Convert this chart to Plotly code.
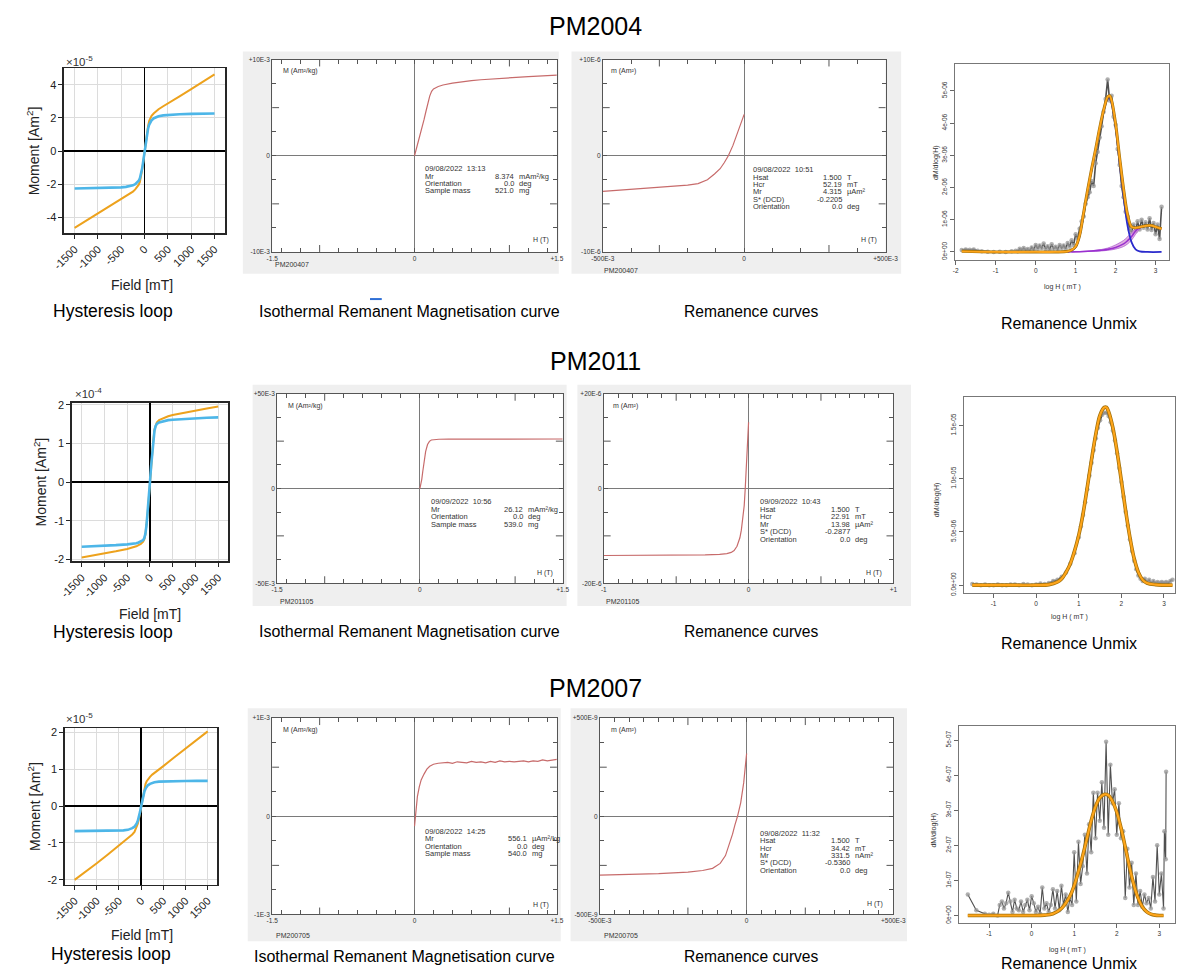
import plotly.graph_objects as go

# ======================= DATA =======================
# Hysteresis loops (field in mT, moment in units of the axis multiplier)
HYST_FIELD = [-1500, -1250, -1000, -750, -500, -400, -300, -250, -200, -150, -125, -100, -75, -50, -25, 0,
              25, 50, 75, 100, 125, 150, 200, 250, 300, 400, 500, 750, 1000, 1250, 1500]
HYST1_RAW = [-4.64, -4.2, -3.76, -3.32, -2.88, -2.72, -2.55, -2.45, -2.31, -2.15, -2.03, -1.86, -1.55, -1.1, -0.6, -0.02,
             0.55, 1.05, 1.5, 1.82, 2.0, 2.12, 2.28, 2.42, 2.52, 2.7, 2.86, 3.3, 3.74, 4.18, 4.62]
HYST1_COR = [-2.26, -2.25, -2.24, -2.22, -2.19, -2.16, -2.11, -2.07, -2.0, -1.88, -1.79, -1.64, -1.4, -1.03, -0.55, -0.02,
             0.5, 0.98, 1.35, 1.6, 1.76, 1.85, 1.98, 2.05, 2.1, 2.15, 2.18, 2.22, 2.24, 2.25, 2.26]
HYST2_RAW = [-1.95, -1.9, -1.85, -1.79, -1.73, -1.7, -1.66, -1.63, -1.6, -1.54, -1.48, -1.36, -1.12, -0.8, -0.42, -0.01,
             0.4, 0.78, 1.1, 1.35, 1.48, 1.54, 1.6, 1.63, 1.66, 1.7, 1.73, 1.79, 1.85, 1.9, 1.95]
HYST2_COR = [-1.67, -1.66, -1.65, -1.63, -1.61, -1.6, -1.58, -1.56, -1.54, -1.5, -1.45, -1.34, -1.11, -0.79, -0.41, -0.01,
             0.4, 0.78, 1.1, 1.33, 1.45, 1.5, 1.54, 1.56, 1.58, 1.6, 1.61, 1.63, 1.65, 1.66, 1.67]
HYST3_RAW = [-2.0, -1.78, -1.55, -1.31, -1.07, -0.98, -0.89, -0.83, -0.77, -0.7, -0.64, -0.57, -0.48, -0.35, -0.19, -0.01,
             0.18, 0.35, 0.5, 0.6, 0.67, 0.72, 0.79, 0.85, 0.9, 0.99, 1.08, 1.32, 1.56, 1.79, 2.02]
HYST3_COR = [-0.68, -0.68, -0.675, -0.67, -0.665, -0.66, -0.645, -0.63, -0.6, -0.56, -0.52, -0.47, -0.4, -0.3, -0.16, -0.01,
             0.16, 0.3, 0.4, 0.47, 0.52, 0.56, 0.6, 0.63, 0.645, 0.66, 0.665, 0.67, 0.675, 0.68, 0.68]
HYST_TICKS = [-1500, -1000, -500, 0, 500, 1000, 1500]
HYST_TICKTEXT = ["-1500", "-1000", "-500", "0", "500", "1000", "1500"]

# IRM acquisition curves (H in T, M in the axis E-3 units)
IRM1_H = [0, 0.02, 0.04, 0.06, 0.08, 0.1, 0.12, 0.14, 0.16, 0.18, 0.2, 0.25, 0.3, 0.4, 0.5, 0.6, 0.7, 0.8, 0.9, 1.0,
          1.1, 1.2, 1.3, 1.4, 1.5]
IRM1_M = [0, 0.7, 1.45, 2.2, 2.95, 3.75, 4.6, 5.45, 6.2, 6.7, 6.95, 7.2, 7.35, 7.55, 7.7, 7.8, 7.9, 7.98, 8.05, 8.12,
          8.18, 8.23, 8.28, 8.32, 8.37]
IRM2_H = [0, 0.01, 0.02, 0.03, 0.04, 0.05, 0.06, 0.08, 0.1, 0.12, 0.15, 0.2, 0.3, 0.5, 0.8, 1.0, 1.2, 1.5]
IRM2_M = [0, 2.0, 5.0, 9.0, 13.0, 16.5, 19.5, 23.2, 24.9, 25.6, 25.9, 26.0, 26.05, 26.08, 26.1, 26.11, 26.12, 26.12]
IRM3_H = [0, 0.005, 0.01, 0.02, 0.03, 0.05, 0.07, 0.1, 0.13, 0.16, 0.2, 0.25, 0.3, 0.35, 0.4, 0.45, 0.5, 0.55, 0.6,
          0.65, 0.7, 0.75, 0.8, 0.85, 0.9, 0.95, 1.0, 1.05, 1.1, 1.15, 1.2, 1.25, 1.3, 1.35, 1.4, 1.45, 1.5]
IRM3_M = [-0.1, -0.05, 0.02, 0.12, 0.2, 0.3, 0.37, 0.43, 0.48, 0.51, 0.53, 0.54, 0.545, 0.55, 0.54, 0.555, 0.55, 0.545,
          0.56, 0.55, 0.555, 0.545, 0.56, 0.55, 0.565, 0.555, 0.56, 0.555, 0.56, 0.565, 0.555, 0.565, 0.56, 0.575,
          0.565, 0.575, 0.58]

# Back-field (DCD) remanence curves
REM1_H = [-0.5, -0.45, -0.4, -0.35, -0.3, -0.25, -0.2, -0.163, -0.13, -0.105, -0.085, -0.07, -0.056, -0.04, -0.023, -0.01, 0]
REM1_M = [-3.7, -3.6, -3.5, -3.4, -3.28, -3.17, -3.05, -2.9, -2.5, -1.9, -1.35, -0.7, 0.0, 1.05, 2.4, 3.4, 4.3]
REM2_H = [-1.0, -0.8, -0.6, -0.4, -0.3, -0.2, -0.15, -0.12, -0.1, -0.08, -0.06, -0.05, -0.04, -0.03, -0.023, -0.015, -0.008, 0]
REM2_M = [-14.15, -14.15, -14.1, -14.05, -14.0, -13.9, -13.75, -13.5, -13.1, -12.2, -10.4, -8.8, -6.6, -3.6, 0.0, 4.0, 8.2, 13.98]
REM3_H = [-0.5, -0.4, -0.3, -0.2, -0.15, -0.116, -0.09, -0.072, -0.06, -0.048, -0.04, -0.031, -0.02, -0.01, 0]
REM3_M = [-300, -297, -292, -284, -276, -265, -240, -200, -150, -91, -45, 0, 70, 170, 320]

# Unmixing: measured gradient data (log H) and fitted components
U1_X = [-1.85, -1.75, -1.65, -1.55, -1.45, -1.35, -1.2, -1.05, -0.9, -0.75, -0.6,
        -0.5, -0.45, -0.4, -0.35, -0.3, -0.25, -0.2, -0.15, -0.1, -0.05,
        0.0, 0.05, 0.1, 0.15, 0.2, 0.25, 0.3, 0.35, 0.4, 0.45,
        0.5, 0.55, 0.6, 0.65, 0.7, 0.75, 0.8, 0.85, 0.9, 0.95,
        1.0, 1.05, 1.1, 1.15, 1.2, 1.25, 1.3, 1.35, 1.4, 1.45,
        1.5, 1.55, 1.6, 1.65, 1.7, 1.75, 1.8, 1.85, 1.9, 1.95,
        2.0, 2.05, 2.1, 2.15, 2.2, 2.25, 2.3, 2.35, 2.4, 2.45,
        2.5, 2.55, 2.6, 2.65, 2.7, 2.75, 2.8, 2.85, 2.9, 2.95,
        3.0, 3.05, 3.1, 3.15]
U1_Y = [0.06, 0.08, 0.07, 0.08, 0.04, 0.02, 0.01, 0.0, 0.01, 0.0, 0.02,
        0.04, 0.02, 0.1, 0.06, 0.12, 0.05, 0.09, 0.04, 0.14, 0.07,
        0.22, 0.1, 0.2, 0.12, 0.26, 0.09, 0.18, 0.07, 0.24, 0.1,
        0.16, 0.08, 0.22, 0.12, 0.2, 0.1, 0.28, 0.16, 0.36, 0.22,
        0.55, 0.42, 0.72, 0.95, 1.1, 1.5, 1.7, 1.85, 2.2, 2.05,
        2.75, 3.1, 3.55, 3.9, 4.35, 4.75, 5.35, 4.7, 4.85, 4.2,
        3.95, 3.2, 2.7, 2.05, 1.7, 1.25, 1.1, 0.7, 0.62, 0.85,
        0.65, 0.95, 0.7, 1.0, 0.75, 0.92, 0.7, 1.05, 0.68, 0.9,
        0.55, 0.85, 0.4, 1.4]
F1_X = [-1.85, -1.0, 0.0, 0.5, 0.8, 0.9, 1.0, 1.1, 1.2, 1.3, 1.4, 1.5, 1.6, 1.7, 1.8, 1.85, 1.9, 2.0, 2.1, 2.2,
        2.3, 2.4, 2.5, 2.6, 2.7, 2.8, 2.9, 3.0, 3.15]
F1_Y = [0.02, 0.0, 0.0, 0.0, 0.02, 0.06, 0.17, 0.52, 1.22, 1.93, 2.58, 3.19, 3.84, 4.4, 4.81, 4.85, 4.7, 3.97, 2.93, 1.95,
        1.15, 0.78, 0.75, 0.77, 0.8, 0.82, 0.82, 0.78, 0.72]
C1_X = [0.7, 0.9, 1.0, 1.1, 1.2, 1.3, 1.4, 1.5, 1.6, 1.7, 1.8, 1.85, 1.9, 2.0, 2.1, 2.2, 2.3, 2.4, 2.5, 2.6, 2.8, 3.15]
C1_Y = [0.0, 0.05, 0.15, 0.5, 1.2, 1.9, 2.55, 3.15, 3.8, 4.35, 4.75, 4.78, 4.6, 3.85, 2.75, 1.7, 0.8, 0.3, 0.08, 0.02, 0.0, 0.0]
C2_X = [0.8, 1.0, 1.2, 1.4, 1.6, 1.8, 2.0, 2.2, 2.3, 2.4, 2.5, 2.6, 2.7, 2.8, 2.9, 3.0, 3.15]
C2_Y = [0.0, 0.005, 0.015, 0.03, 0.05, 0.08, 0.14, 0.25, 0.35, 0.48, 0.65, 0.75, 0.8, 0.82, 0.82, 0.78, 0.72]
C2B_X = [0.9, 1.2, 1.5, 1.8, 2.0, 2.2, 2.3, 2.4, 2.5, 2.6, 2.65]
C2B_UP = [0.0, 0.02, 0.05, 0.12, 0.22, 0.36, 0.47, 0.6, 0.72, 0.78, 0.79]
C2B_LO = [0.0, 0.01, 0.02, 0.05, 0.09, 0.17, 0.25, 0.37, 0.55, 0.7, 0.76]

U2_X = [-1.5, -1.4, -1.3, -1.2, -1.1, -1.0, -0.9, -0.8, -0.7, -0.6, -0.5, -0.4, -0.3, -0.2, -0.1,
        0.0, 0.1, 0.2, 0.3, 0.4, 0.5, 0.6, 0.7, 0.8, 0.9,
        1.0, 1.05, 1.1, 1.15, 1.2, 1.25, 1.3, 1.35, 1.4, 1.45,
        1.5, 1.55, 1.6, 1.65, 1.7, 1.75, 1.8, 1.85, 1.9, 1.95,
        2.0, 2.05, 2.1, 2.15, 2.2, 2.25, 2.3, 2.35, 2.4, 2.45,
        2.5, 2.55, 2.6, 2.65, 2.7, 2.75, 2.8, 2.85, 2.9, 2.95,
        3.0, 3.05, 3.1, 3.15, 3.2]
U2_Y = [0.01, 0.005, 0.0, 0.005, 0.0, 0.0, 0.005, 0.0, 0.0, 0.005, 0.005, 0.0, 0.01, 0.005, 0.0,
        0.005, 0.015, 0.01, 0.02, 0.04, 0.05, 0.08, 0.12, 0.2, 0.3,
        0.45, 0.55, 0.66, 0.78, 0.9, 1.03, 1.15, 1.27, 1.38, 1.48,
        1.55, 1.6, 1.62, 1.62, 1.59, 1.53, 1.45, 1.36, 1.24, 1.1,
        0.97, 0.83, 0.69, 0.56, 0.43, 0.32, 0.23, 0.15, 0.09, 0.06,
        0.04, 0.06, 0.03, 0.05, 0.02, 0.04, 0.02, 0.03, 0.02, 0.03,
        0.02, 0.03, 0.02, 0.04, 0.05]
F2_X = [-1.5, -0.5, 0.0, 0.3, 0.5, 0.6, 0.7, 0.8, 0.9, 1.0, 1.1, 1.2, 1.3, 1.4, 1.5, 1.6, 1.65, 1.7, 1.8, 1.9,
        2.0, 2.1, 2.2, 2.3, 2.4, 2.5, 2.6, 2.8, 3.2]
F2_Y = [0, 0, 0, 0.005, 0.03, 0.06, 0.12, 0.2, 0.32, 0.47, 0.67, 0.92, 1.18, 1.42, 1.6, 1.67, 1.67, 1.63, 1.48, 1.25,
        0.98, 0.7, 0.45, 0.25, 0.12, 0.05, 0.02, 0.005, 0]

U3_X = [-1.5, -1.3, -1.1, -1.0, -0.9, -0.8,
        -0.75, -0.7, -0.65, -0.6, -0.55, -0.5, -0.45, -0.4, -0.35, -0.3,
        -0.25, -0.2, -0.15, -0.1, -0.05, 0.0, 0.05, 0.1, 0.15, 0.2,
        0.25, 0.3, 0.35, 0.4, 0.45, 0.5, 0.55, 0.6, 0.65, 0.7,
        0.75, 0.8, 0.85, 0.9, 0.95, 1.0, 1.05, 1.1, 1.15, 1.2,
        1.25, 1.3, 1.35, 1.4, 1.45, 1.5, 1.55, 1.6, 1.65, 1.7,
        1.75, 1.8, 1.85, 1.9, 1.95, 2.0, 2.05, 2.1, 2.15, 2.2,
        2.25, 2.3, 2.35, 2.4, 2.45, 2.5, 2.55, 2.6, 2.65, 2.7,
        2.75, 2.8, 2.85, 2.9, 2.95, 3.0, 3.05, 3.1, 3.12, 3.15, 3.16]
U3_Y = [0.6, 0.15, 0.05, 0.02, 0.05, 0.0,
        0.3, 0.4, 0.2, 0.35, 0.65, 0.4, 0.1, 0.45, 0.2, 0.15,
        0.4, 0.1, 0.3, 0.45, 0.15, 0.55, 0.35, 0.1, 0.25, 0.05,
        0.8, 0.2, 0.35, 0.1, 0.3, 0.75, 0.2, 0.7, 0.15, 0.85,
        0.3, 0.6, 0.1, 0.5, 0.3, 1.8, 0.4, 2.1, 0.9, 1.4,
        2.3, 1.2, 2.6, 1.8, 3.5, 2.2, 3.5, 2.7, 3.8, 2.5,
        4.95, 2.3, 4.3, 3.2, 3.6, 2.3, 3.2, 2.2, 2.4, 0.5,
        1.9, 0.8, 1.5, 0.3, 1.2, 0.3, 0.7, 0.25, 0.6, 0.35,
        0.5, 0.2, 1.1, 0.4, 2.0, 0.6, 1.2, 0.2, 2.4, 1.6, 4.1]
F3_X = [-1.5, -0.5, 0.0, 0.3, 0.5, 0.7, 0.9, 1.0, 1.1, 1.2, 1.3, 1.4, 1.5, 1.6, 1.7, 1.8, 1.9, 2.0, 2.1, 2.2,
        2.3, 2.4, 2.5, 2.6, 2.7, 2.8, 2.9, 3.0, 3.1]
F3_Y = [0, 0, 0, 0.01, 0.05, 0.2, 0.55, 0.85, 1.25, 1.7, 2.2, 2.7, 3.1, 3.35, 3.45, 3.43, 3.25, 2.95, 2.5, 1.95,
        1.38, 0.88, 0.5, 0.25, 0.11, 0.04, 0.01, 0, 0]

# Instrument info blocks
IRM1_INFO = [("09/08/2022\u00a0\u00a013:13", "", ""), ("Mr", "8.374", "mAm²/kg"), ("Orientation", "0.0", "deg"),
             ("Sample mass", "521.0", "mg")]
REM1_INFO = [("09/08/2022\u00a0\u00a010:51", "", ""), ("Hsat", "1.500", "T"), ("Hcr", "52.19", "mT"),
             ("Mr", "4.315", "µAm²"), ("S* (DCD)", "-0.2205", ""), ("Orientation", "0.0", "deg")]
IRM2_INFO = [("09/09/2022\u00a0\u00a010:56", "", ""), ("Mr", "26.12", "mAm²/kg"), ("Orientation", "0.0", "deg"),
             ("Sample mass", "539.0", "mg")]
REM2_INFO = [("09/09/2022\u00a0\u00a010:43", "", ""), ("Hsat", "1.500", "T"), ("Hcr", "22.91", "mT"),
             ("Mr", "13.98", "µAm²"), ("S* (DCD)", "-0.2877", ""), ("Orientation", "0.0", "deg")]
IRM3_INFO = [("09/08/2022\u00a0\u00a014:25", "", ""), ("Mr", "556.1", "µAm²/kg"), ("Orientation", "0.0", "deg"),
             ("Sample mass", "540.0", "mg")]
REM3_INFO = [("09/08/2022\u00a0\u00a011:32", "", ""), ("Hsat", "1.500", "T"), ("Hcr", "34.42", "mT"),
             ("Mr", "331.5", "nAm²"), ("S* (DCD)", "-0.5360", ""), ("Orientation", "0.0", "deg")]

# ======================= LAYOUT HELPERS =======================
W, H = 1190, 977
FONT = "Liberation Sans, Arial, sans-serif"


def px(x):
    return x / W


def py(y):
    return 1 - y / H


fig = go.Figure()
axes_layout = {}
annotations = []
shapes = []
counter = [0]


def add_axes(x0, x1, y0, y1, xax, yax):
    counter[0] += 1
    n = counter[0]
    s = "" if n == 1 else str(n)
    axes_layout["xaxis" + s] = dict(domain=[px(x0), px(x1)], anchor="y" + s, **xax)
    axes_layout["yaxis" + s] = dict(domain=[py(y1), py(y0)], anchor="x" + s, **yax)
    return "x" + s, "y" + s


def text(x, y, s, size, xanchor="center", yanchor="middle", color="#000000", angle=0):
    annotations.append(dict(x=px(x), y=py(y), xref="paper", yref="paper", text=s, showarrow=False,
                            font=dict(family=FONT, size=size, color=color), xanchor=xanchor,
                            yanchor=yanchor, textangle=angle, borderpad=0))


def rect(x0, y0, x1, y1, color):
    shapes.append(dict(type="rect", xref="paper", yref="paper", x0=px(x0), x1=px(x1), y0=py(y1), y1=py(y0),
                       fillcolor=color, line=dict(width=0), layer="below"))


def line(x, y, xa, ya, color, width, shape="linear", mode="lines", marker=None, fill=None, fillcolor=None):
    kw = dict(x=x, y=y, xaxis=xa, yaxis=ya, mode=mode, showlegend=False, hoverinfo="skip",
              line=dict(color=color, width=width, shape=shape))
    if marker is not None:
        kw["marker"] = marker
    if fill is not None:
        kw["fill"] = fill
        kw["fillcolor"] = fillcolor
    fig.add_trace(go.Scatter(**kw))


# ---------------- hysteresis panels ----------------
def hyst_panel(box, xr, yr, yt, ytt, raw, cor, mult, mult_pos, ytitle_pos, xtitle_pos, label_pos):
    x0, x1, y0, y1 = box
    common = dict(showgrid=True, gridcolor="#DCDCDC", gridwidth=1, zeroline=True, zerolinecolor="#000000",
                  zerolinewidth=1.6, showline=True, linecolor="#262626", linewidth=1.4, mirror=True,
                  ticks="outside", ticklen=4, tickcolor="#262626", tickmode="array",
                  tickfont=dict(family=FONT, size=11, color="#222222"), fixedrange=True)
    xa, ya = add_axes(x0, x1, y0, y1,
                      dict(range=xr, tickvals=HYST_TICKS, ticktext=HYST_TICKTEXT, tickangle=-45, **common),
                      dict(range=yr, tickvals=yt, ticktext=ytt, **common))
    line(HYST_FIELD, raw, xa, ya, "#EDA21D", 2.0)
    line(HYST_FIELD, cor, xa, ya, "#4DB6E8", 2.6)
    text(mult_pos[0], mult_pos[1], "×10<sup>%s</sup>" % mult, 11.5, xanchor="left", color="#333333")
    text(ytitle_pos[0], ytitle_pos[1], "Moment [Am<sup>2</sup>]", 14, angle=-90, color="#222222")
    text(xtitle_pos[0], xtitle_pos[1], "Field [mT]", 14, color="#222222")
    text(label_pos[0], label_pos[1], "Hysteresis loop", 17.5)


# ---------------- instrument (IRM / DCD) panels ----------------
TICK_COLOR = "#555555"


def inst_axis(rng, labv, labt, minv):
    return dict(range=rng, tickmode="array", tickvals=labv, ticktext=labt, ticks="inside", ticklen=4,
                tickcolor=TICK_COLOR, tickwidth=1,
                minor=dict(tickmode="array", tickvals=minv, ticks="inside", ticklen=4, tickcolor=TICK_COLOR,
                           tickwidth=1, showgrid=False),
                showline=True, linecolor=TICK_COLOR, linewidth=1, mirror="ticks", showgrid=False,
                zeroline=True, zerolinecolor="#7A7A7A", zerolinewidth=1,
                tickfont=dict(family=FONT, size=6.5, color="#333333"), fixedrange=True)


def long_ticks(xa, ya, box, xvals, yvals, length=7):
    x0, x1, y0, y1 = box
    fx = length / (y1 - y0)
    fy = length / (x1 - x0)
    for v in xvals:
        for a, b in ((0, fx), (1, 1 - fx)):
            shapes.append(dict(type="line", xref=xa, yref=ya + " domain", x0=v, x1=v, y0=a, y1=b,
                               line=dict(color=TICK_COLOR, width=1)))
    for v in yvals:
        for a, b in ((0, fy), (1, 1 - fy)):
            shapes.append(dict(type="line", xref=xa + " domain", yref=ya, x0=a, x1=b, y0=v, y1=v,
                               line=dict(color=TICK_COLOR, width=1)))


def inst_panel(box, gray, xaxis, yaxis, xlong, ylong, hx, my, ylab, ylab_pos, ht_pos, sample, sample_pos,
               info, info_x, info_xr, info_y0):
    x0, x1, y0, y1 = box
    rect(gray[0], gray[1], gray[2], gray[3], "#EFEFEF")
    rect(x0, y0, x1, y1, "#FFFFFF")
    xa, ya = add_axes(x0, x1, y0, y1, xaxis, yaxis)
    long_ticks(xa, ya, box, xlong, ylong)
    line(hx, my, xa, ya, "#C76B6B", 1.2)
    text(ylab_pos[0], ylab_pos[1], ylab, 7, xanchor="left", color="#333333")
    text(ht_pos[0], ht_pos[1], "H (T)", 7, xanchor="right", color="#333333")
    text(sample_pos[0], sample_pos[1], sample, 7, xanchor="left", color="#333333")
    for i, (lab, val, unit) in enumerate(info):
        yy = info_y0 + 7.5 * i
        text(info_x, yy, lab, 7.5, xanchor="left", color="#333333")
        if val:
            text(info_xr, yy, val, 7.5, xanchor="right", color="#333333")
        if unit:
            text(info_xr + 3, yy, unit, 7.5, xanchor="left", color="#333333")


# ---------------- unmix panels ----------------
def unmix_axis(rng, tv, tt, angle=0):
    return dict(range=rng, tickmode="array", tickvals=tv, ticktext=tt, tickangle=angle, ticks="outside",
                ticklen=4, tickcolor="#666666", showline=True, linecolor="#777777", linewidth=1, mirror=True,
                showgrid=False, zeroline=False, tickfont=dict(family=FONT, size=6.5, color="#333333"),
                fixedrange=True)


def unmix_data(xa, ya, ux, uy, lw):
    line(ux, uy, xa, ya, "#505050", lw, mode="lines+markers",
         marker=dict(size=4.5, color="rgba(150,150,150,0.75)", line=dict(width=0)))


def orange_fit(xa, ya, fx, fy, w_edge=3.6, w_core=2.1):
    line(fx, fy, xa, ya, "#A0700A", w_edge, shape="spline")
    line(fx, fy, xa, ya, "#FFA51A", w_core, shape="spline")


IRM_XMINOR = [-1.4, -1.2, -0.8, -0.6, -0.4, -0.2, 0.2, 0.4, 0.6, 0.8, 1.2, 1.4]

# ======================= ROW 1 : PM2004 =======================
text(595, 22, "PM2004", 25)
hyst_panel((52, 217, 65, 231), [-1730, 1730], [-4.95, 4.98], [-4, -2, 0, 2, 4], ["-4", "-2", "0", "2", "4"],
           HYST1_RAW, HYST1_COR, "-5", (53, 57), (20, 148), (132, 283), (102, 310))

inst_panel((265, 556, 56, 250), (235, 48, 558, 272),
           inst_axis([-1.5, 1.5], [-1.5, 0, 1.5], ["-1.5", "0", "+1.5"], IRM_XMINOR),
           inst_axis([-10, 10], [-10, 0, 10], ["-10E-3", "0", "+10E-3"], [-7.5, -2.5, 2.5, 7.5]),
           [-1.0, 1.0], [-5, 5],
           IRM1_H, IRM1_M, "M (Am²/kg)", (275, 68), (549, 238), "PM200407", (267, 263),
           IRM1_INFO, 420, 513, 166)
text(405, 310, "Isothermal Remanent Magnetisation curve", 16)
shapes.append(dict(type="line", xref="paper", yref="paper", x0=px(365), x1=px(377), y0=py(297.5), y1=py(297.5),
                   line=dict(color="#2F6FD6", width=2)))

inst_panel((603, 892, 56, 250), (571, 48, 908, 272),
           inst_axis([-0.5, 0.5], [-0.5, 0, 0.5], ["-500E-3", "0", "+500E-3"], [-0.4, -0.2, -0.1, 0.1, 0.2, 0.4]),
           inst_axis([-10, 10], [-10, 0, 10], ["-10E-6", "0", "+10E-6"], [-7.5, -2.5, 2.5, 7.5]),
           [-0.3, 0.3], [-5, 5],
           REM1_H, REM1_M, "m (Am²)", (610, 68), (884, 238), "PM200407", (603, 269),
           REM1_INFO, 756, 849, 167)
text(755, 310, "Remanence curves", 15.6)

xa, ya = add_axes(963, 1182, 60, 258,
                  unmix_axis([-2.02, 3.34], [-2, -1, 0, 1, 2, 3], ["-2", "-1", "0", "1", "2", "3"]),
                  unmix_axis([-0.246, 5.85], [0, 1, 2, 3, 4, 5],
                             ["0e+00", "1e-06", "2e-06", "3e-06", "4e-06", "5e-06"], angle=-90))
unmix_data(xa, ya, U1_X, U1_Y, 1.6)
line(C2B_X, C2B_LO, xa, ya, "#B060D0", 0.8, shape="spline")
line(C2B_X, C2B_UP, xa, ya, "#B060D0", 0.8, shape="spline", fill="tonexty", fillcolor="rgba(214,150,214,0.75)")
line(C2_X, C2_Y, xa, ya, "#9A30D0", 1.6, shape="spline")
line(C1_X, C1_Y, xa, ya, "#2A2ACC", 1.8, shape="spline")
orange_fit(xa, ya, F1_X, F1_Y, 3.0, 1.8)
text(943, 160, "dM/dlog(H)", 7, angle=-90, color="#333333")
text(1073, 285, "log H ( mT )", 7, color="#333333")
text(1080, 322, "Remanence Unmix", 16)

# ======================= ROW 2 : PM2011 =======================
text(595, 360, "PM2011", 25)
hyst_panel((60, 220, 402, 562), [-1720, 1720], [-2.05, 2.05], [-2, -1, 0, 1, 2], ["-2", "-1", "0", "1", "2"],
           HYST2_RAW, HYST2_COR, "-4", (62, 392), (28, 482), (140, 615), (102, 633))

inst_panel((270, 562, 393, 584), (245, 384, 566, 607),
           inst_axis([-1.5, 1.5], [-1.5, 0, 1.5], ["-1.5", "0", "+1.5"], IRM_XMINOR),
           inst_axis([-50, 50], [-50, 0, 50], ["-50E-3", "0", "+50E-3"], [-37.5, -12.5, 12.5, 37.5]),
           [-1.0, 1.0], [-25, 25],
           IRM2_H, IRM2_M, "M (Am²/kg)", (280, 405), (553, 574), "PM201105", (272, 602),
           IRM2_INFO, 426, 522, 502)
text(405, 633, "Isothermal Remanent Magnetisation curve", 16)

inst_panel((604, 900, 393, 584), (577, 384, 918, 607),
           inst_axis([-1.0, 1.0], [-1.0, 0, 1.0], ["-1", "0", "+1"],
                     [-0.9, -0.8, -0.7, -0.6, -0.4, -0.3, -0.2, -0.1, 0.1, 0.2, 0.3, 0.4, 0.6, 0.7, 0.8, 0.9]),
           inst_axis([-20, 20], [-20, 0, 20], ["-20E-6", "0", "+20E-6"], [-15, -5, 5, 15]),
           [-0.5, 0.5], [-10, 10],
           REM2_H, REM2_M, "m (Am²)", (612, 405), (889, 574), "PM201105", (605, 602),
           REM2_INFO, 763, 857, 502)
text(755, 633, "Remanence curves", 15.6)

xa, ya = add_axes(972, 1188, 396, 594,
                  unmix_axis([-1.70, 3.26], [-1, 0, 1, 2, 3], ["-1", "0", "1", "2", "3"]),
                  unmix_axis([-0.075, 1.77], [0, 0.5, 1.0, 1.5],
                             ["0.0e+00", "5.0e-06", "1.0e-05", "1.5e-05"], angle=-90))
unmix_data(xa, ya, U2_X, U2_Y, 1.4)
orange_fit(xa, ya, F2_X, F2_Y)
text(945, 500, "dM/dlog(H)", 7, angle=-90, color="#333333")
text(1080, 618, "log H ( mT )", 7, color="#333333")
text(1080, 645, "Remanence Unmix", 16)

# ======================= ROW 3 : PM2007 =======================
text(595, 690, "PM2007", 25)
hyst_panel((53, 209, 730, 888), [-1720, 1720], [-2.13, 2.11], [-2, -1, 0, 1, 2], ["-2", "-1", "0", "1", "2"],
           HYST3_RAW, HYST3_COR, "-5", (53, 720), (22, 809), (132, 939), (100, 958))

inst_panel((265, 556, 720, 918), (240, 710, 560, 945),
           inst_axis([-1.5, 1.5], [-1.5, 0, 1.5], ["-1.5", "0", "+1.5"], IRM_XMINOR),
           inst_axis([-1, 1], [-1, 0, 1], ["-1E-3", "0", "+1E-3"], [-0.75, -0.25, 0.25, 0.75]),
           [-1.0, 1.0], [-0.5, 0.5],
           IRM3_H, IRM3_M, "M (Am²/kg)", (275, 732), (549, 908), "PM200705", (268, 939),
           IRM3_INFO, 420, 527, 834)
text(400, 960, "Isothermal Remanent Magnetisation curve", 16)

inst_panel((600, 900, 720, 918), (570, 710, 914, 945),
           inst_axis([-0.5, 0.5], [-0.5, 0, 0.5], ["-500E-3", "0", "+500E-3"],
                     [-0.45, -0.4, -0.35, -0.3, -0.25, -0.15, -0.1, -0.05, 0.05, 0.1, 0.15, 0.25, 0.3, 0.35,
                      0.4, 0.45]),
           inst_axis([-500, 500], [-500, 0, 500], ["-500E-9", "0", "+500E-9"], [-375, -125, 125, 375]),
           [-0.2, 0.2], [-250, 250],
           REM3_H, REM3_M, "m (Am²)", (610, 732), (890, 907), "PM200705", (603, 939),
           REM3_INFO, 763, 857, 836)
text(755, 960, "Remanence curves", 15.6)

xa, ya = add_axes(967, 1188, 728, 927,
                  unmix_axis([-1.71, 3.37], [-1, 0, 1, 2, 3], ["-1", "0", "1", "2", "3"]),
                  unmix_axis([-0.226, 5.4], [0, 1, 2, 3, 4, 5],
                             ["0e+00", "1e-07", "2e-07", "3e-07", "4e-07", "5e-07"], angle=-90))
unmix_data(xa, ya, U3_X, U3_Y, 1.1)
orange_fit(xa, ya, F3_X, F3_Y)
text(942, 833, "dM/dlog(H)", 7, angle=-90, color="#333333")
text(1078, 954, "log H ( mT )", 7, color="#333333")
text(1080, 967, "Remanence Unmix", 16)

# ======================= FINAL LAYOUT =======================
fig.update_layout(width=W, height=H, autosize=False, margin=dict(l=0, r=0, t=0, b=0),
                  paper_bgcolor="#FFFFFF", plot_bgcolor="rgba(0,0,0,0)", showlegend=False,
                  font=dict(family=FONT), annotations=annotations, shapes=shapes, **axes_layout)

# remove the default 8px page margin so the figure sits at the window origin
PAGE_FIX = "document.body.style.margin='0';document.body.style.padding='0';document.body.style.overflow='hidden';"
fig.write_html("out.html", post_script=PAGE_FIX, config={"displayModeBar": False, "staticPlot": True})
